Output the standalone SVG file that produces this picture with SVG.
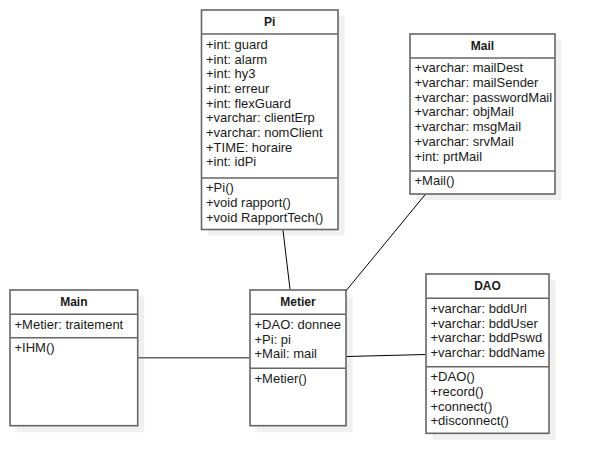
<svg xmlns="http://www.w3.org/2000/svg" width="596" height="474" viewBox="0 0 596 474">
<style>
.bg{fill:#ffffff}
.sh{fill:#f0f0f0}
.box{fill:#ffffff;stroke:#666666;stroke-width:1.6}
.sep{stroke:#666666;stroke-width:1.6}
.t{font-family:"Liberation Sans",Arial,sans-serif;font-size:13px;fill:#1a1a1a}
.h{font-family:"Liberation Sans",Arial,sans-serif;font-size:12px;font-weight:bold;fill:#1a1a1a;text-anchor:middle}
.c{stroke:#000000;stroke-width:1;fill:none}
.cg{stroke:#666666;stroke-width:1.6;fill:none}
</style>
<rect class="bg" x="0" y="0" width="596" height="474"/>
<g id="Pi">
<rect class="sh" x="208" y="16" width="136.5" height="219.5"/>
<rect class="box" x="201.5" y="10" width="136.5" height="219.5"/>
<line class="sep" x1="201.5" y1="34" x2="338" y2="34"/>
<line class="sep" x1="201.5" y1="178" x2="338" y2="178"/>
<text class="h" x="269.75" y="26">Pi</text>
<text class="t" x="206" y="48.8">+int: guard</text>
<text class="t" x="206" y="63.5">+int: alarm</text>
<text class="t" x="206" y="78.2">+int: hy3</text>
<text class="t" x="206" y="92.9">+int: erreur</text>
<text class="t" x="206" y="107.6">+int: flexGuard</text>
<text class="t" x="206" y="122.3">+varchar: clientErp</text>
<text class="t" x="206" y="137">+varchar: nomClient</text>
<text class="t" x="206" y="151.7">+TIME: horaire</text>
<text class="t" x="206" y="166.4">+int: idPi</text>
<text class="t" x="206" y="192.3">+Pi()</text>
<text class="t" x="206" y="207">+void rapport()</text>
<text class="t" x="206" y="221.7">+void RapportTech()</text>
</g>
<g id="Mail">
<rect class="sh" x="416" y="40" width="145" height="160"/>
<rect class="box" x="410" y="34" width="145" height="160"/>
<line class="sep" x1="410" y1="58" x2="555" y2="58"/>
<line class="sep" x1="410" y1="171" x2="555" y2="171"/>
<text class="h" x="482.5" y="50">Mail</text>
<text class="t" x="414.5" y="72.3">+varchar: mailDest</text>
<text class="t" x="414.5" y="87">+varchar: mailSender</text>
<text class="t" x="414.5" y="101.7">+varchar: passwordMail</text>
<text class="t" x="414.5" y="116.4">+varchar: objMail</text>
<text class="t" x="414.5" y="131.1">+varchar: msgMail</text>
<text class="t" x="414.5" y="145.8">+varchar: srvMail</text>
<text class="t" x="414.5" y="160.5">+int: prtMail</text>
<text class="t" x="414.5" y="185.3">+Mail()</text>
</g>
<g id="Main">
<rect class="sh" x="16.5" y="296.5" width="127.7" height="135.7"/>
<rect class="box" x="10" y="290" width="127.7" height="135.7"/>
<line class="sep" x1="10" y1="314.3" x2="137.7" y2="314.3"/>
<line class="sep" x1="10" y1="337.7" x2="137.7" y2="337.7"/>
<text class="h" x="73.85" y="306">Main</text>
<text class="t" x="14.5" y="328.8">+Metier: traitement</text>
<text class="t" x="14.5" y="352.3">+IHM()</text>
</g>
<g id="Metier">
<rect class="sh" x="256.5" y="296.5" width="96" height="135.7"/>
<rect class="box" x="250" y="290" width="96" height="135.7"/>
<line class="sep" x1="250" y1="314.3" x2="346" y2="314.3"/>
<line class="sep" x1="250" y1="368.3" x2="346" y2="368.3"/>
<text class="h" x="298" y="306">Metier</text>
<text class="t" x="254.5" y="328.8">+DAO: donnee</text>
<text class="t" x="254.5" y="343.5">+Pi: pi</text>
<text class="t" x="254.5" y="358.2">+Mail: mail</text>
<text class="t" x="254.5" y="382.8">+Metier()</text>
</g>
<g id="DAO">
<rect class="sh" x="432.5" y="280.5" width="123" height="159.3"/>
<rect class="box" x="426" y="274" width="123" height="159.3"/>
<line class="sep" x1="426" y1="298.3" x2="549" y2="298.3"/>
<line class="sep" x1="426" y1="366.7" x2="549" y2="366.7"/>
<text class="h" x="487.5" y="290">DAO</text>
<text class="t" x="430.5" y="312.8">+varchar: bddUrl</text>
<text class="t" x="430.5" y="327.5">+varchar: bddUser</text>
<text class="t" x="430.5" y="342.2">+varchar: bddPswd</text>
<text class="t" x="430.5" y="356.9">+varchar: bddName</text>
<text class="t" x="430.5" y="381.3">+DAO()</text>
<text class="t" x="430.5" y="396">+record()</text>
<text class="t" x="430.5" y="410.7">+connect()</text>
<text class="t" x="430.5" y="425.4">+disconnect()</text>
</g>
<g id="connectors">
<line class="c" x1="283" y1="230.3" x2="290" y2="289.2"/>
<line class="c" x1="425" y1="194.8" x2="346.3" y2="290.5"/>
<line class="cg" x1="138.5" y1="357.7" x2="249.2" y2="357.7"/>
<line class="c" x1="346.8" y1="356.5" x2="425.2" y2="354.5"/>
</g>
</svg>
